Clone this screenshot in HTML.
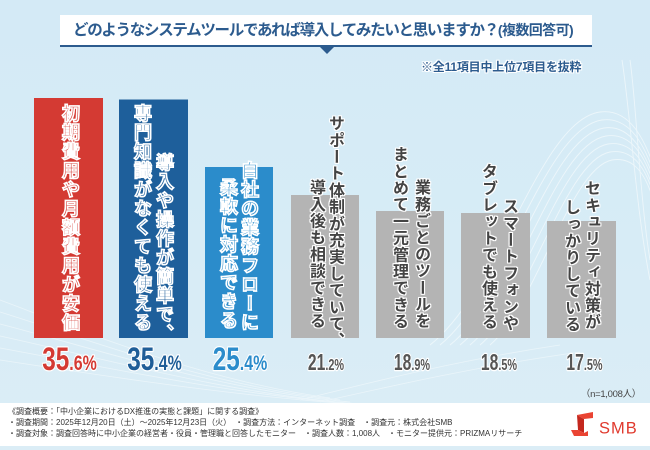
<!DOCTYPE html>
<html><head><meta charset="utf-8">
<style>
*{margin:0;padding:0;box-sizing:border-box}
html,body{width:650px;height:450px;overflow:hidden}
body{position:relative;background:linear-gradient(180deg,#d4eaf6 0%,#d7ecf6 55%,#dbedf6 100%);font-family:"Liberation Sans","Noto Sans CJK JP",sans-serif}
.a{position:absolute}
.title{left:60px;top:15px;width:532px;height:32px;background:#fff;border-bottom:2px solid #2c5b8e}
.tri{left:320px;top:47px;width:0;height:0;border-left:7px solid transparent;border-right:7px solid transparent;border-top:7px solid #2c5b8e}
.ttext{left:73px;top:20px;line-height:21px;font-size:15.5px;font-weight:bold;color:#2c5b8e;letter-spacing:-1.3px;white-space:nowrap;font-family:"Liberation Sans","Noto Sans CJK JP",sans-serif}
.ttext .s{font-size:14px;letter-spacing:-0.6px}
.note{left:421px;top:59px;line-height:16px;font-size:12px;font-weight:bold;color:#2c5b8e;letter-spacing:-0.2px;white-space:nowrap;
text-shadow:1px 0 #fff,-1px 0 #fff,0 1px #fff,0 -1px #fff,1px 1px #fff,-1px -1px #fff,1px -1px #fff,-1px 1px #fff}
.v{position:absolute;writing-mode:vertical-rl;white-space:nowrap;font-family:"Liberation Sans","Noto Sans CJK JP",sans-serif;font-weight:bold}
.c{font-size:18px;line-height:18px;width:18px;letter-spacing:1px;-webkit-text-stroke:1.6px #fff}
.g{font-size:16px;line-height:16px;width:16px;letter-spacing:0.7px;color:#444;
text-shadow:1px 0 #fff,-1px 0 #fff,0 1px #fff,0 -1px #fff,1px 1px #fff,-1px -1px #fff,1px -1px #fff,-1px 1px #fff,0 0 2px #fff}
.foot{left:0;top:403px;width:650px;height:43px;background:#fff}
.fl{left:8px;font-size:8px;line-height:11px;color:#333;white-space:nowrap;font-family:"Liberation Sans","Noto Sans CJK JP",sans-serif}
.n{left:560px;width:81px;text-align:right;top:388px;font-size:9.5px;line-height:14px;color:#444;white-space:nowrap;letter-spacing:-0.3px}
</style></head>
<body>
<svg class="a" style="left:0;top:0" width="650" height="450" viewBox="0 0 650 450">
  <g fill="none" stroke="#ffffff" stroke-width="0.9" opacity="0.55">
    <path d="M430 345 C500 290 540 120 600 112 C630 108 645 140 655 170"/>
    <path d="M440 345 C505 292 545 128 602 120 C630 116 645 146 655 176"/>
    <path d="M450 345 C512 295 550 136 604 128 C630 124 645 152 655 182"/>
    <path d="M460 345 C518 298 555 144 606 136 C632 132 646 158 655 188"/>
    <path d="M470 345 C524 300 560 152 608 144 C633 140 646 164 655 194"/>
    <path d="M480 345 C530 303 565 160 610 152 C634 148 647 170 655 200"/>
    <path d="M490 345 C536 306 570 168 612 160 C635 156 647 176 655 206"/>
    <path d="M630 60 C636 100 640 200 650 260"/>
    <path d="M622 60 C630 110 636 210 650 280"/>
  </g>
  <g fill="none" stroke="#ffffff" stroke-width="0.8" opacity="0.45">
    <path d="M0 300 C80 330 200 380 330 398"/>
    <path d="M0 312 C90 340 210 386 340 400"/>
    <path d="M0 324 C100 350 220 390 350 402"/>
    <path d="M0 336 C110 360 230 394 360 404"/>
    <path d="M0 348 C120 370 240 396 370 405"/>
    <path d="M0 360 C130 380 250 398 380 406"/>
    <path d="M300 400 C380 380 460 360 560 345"/>
    <path d="M320 402 C400 384 480 366 580 352"/>
  </g>
  <!-- bars -->
  <rect x="34" y="98" width="69" height="240" fill="#d43a33"/>
  <rect x="119" y="99.5" width="69" height="238.5" fill="#1e5f9b"/>
  <rect x="205" y="167" width="68" height="171" fill="#2b8ccb"/>
  <rect x="291" y="195" width="68" height="143" fill="#b4b4b4"/>
  <rect x="376" y="211" width="68" height="127" fill="#b4b4b4"/>
  <rect x="461" y="213" width="69" height="125" fill="#b4b4b4"/>
  <rect x="547" y="221" width="69" height="117" fill="#b4b4b4"/>
  <!-- percentages -->
  <g font-family="Liberation Sans" font-weight="bold" stroke="#fff" stroke-width="2.5" paint-order="stroke" stroke-linejoin="round" text-anchor="middle">
    <text transform="translate(69.5,370) scale(0.76,1)" fill="#d43a33"><tspan font-size="32">35</tspan><tspan font-size="21">.6%</tspan></text>
    <text transform="translate(154.5,370) scale(0.76,1)" fill="#1f5e98"><tspan font-size="32">35</tspan><tspan font-size="21">.4%</tspan></text>
    <text transform="translate(240,370) scale(0.76,1)" fill="#2b8ccb"><tspan font-size="32">25</tspan><tspan font-size="21">.4%</tspan></text>
    <text transform="translate(326,370) scale(0.68,1)" fill="#555"><tspan font-size="23">21</tspan><tspan font-size="16">.2%</tspan></text>
    <text transform="translate(412,370) scale(0.68,1)" fill="#555"><tspan font-size="23">18</tspan><tspan font-size="16">.9%</tspan></text>
    <text transform="translate(499,370) scale(0.68,1)" fill="#555"><tspan font-size="23">18</tspan><tspan font-size="16">.5%</tspan></text>
    <text transform="translate(584.5,370) scale(0.68,1)" fill="#555"><tspan font-size="23">17</tspan><tspan font-size="16">.5%</tspan></text>
  </g>
</svg>

<div class="a title"></div>
<div class="a tri"></div>
<div class="a ttext">どのようなシステムツールであれば導入してみたいと思いますか？<span class="s">(複数回答可)</span></div>
<div class="a note">※全11項目中上位7項目を抜粋</div>

<!-- vertical labels -->
<div class="v c" style="left:61px;top:104px;color:#d43a33">初期費用や月額費用が安価</div>
<div class="v c" style="left:133px;top:104px;color:#1e5f9b">専門知識がなくても使える</div>
<div class="v c" style="left:155px;top:153px;color:#1e5f9b">導入や操作が簡単で、</div>
<div class="v c" style="left:240px;top:161px;color:#2b8ccb">自社の業務フローに</div>
<div class="v c" style="left:219px;top:178px;color:#2b8ccb">柔軟に対応できる</div>

<div class="v g" style="left:326px;top:115px">サポート体制が充実していて、</div>
<div class="v g" style="left:307px;top:179px">導入後も相談できる</div>
<div class="v g" style="left:412px;top:179px">業務ごとのツールを</div>
<div class="v g" style="left:390px;top:146px">まとめて一元管理できる</div>
<div class="v g" style="left:500px;top:198px">スマートフォンや</div>
<div class="v g" style="left:479px;top:163px">タブレットでも使える</div>
<div class="v g" style="left:582px;top:180px">セキュリティ対策が</div>
<div class="v g" style="left:562px;top:199px">しっかりしている</div>

<div class="a n">（n=1,008人）</div>

<div class="a foot"></div>
<div class="a fl" style="top:405.5px">《調査概要：「中小企業におけるDX推進の実態と課題」に関する調査》</div>
<div class="a fl" style="top:416.5px">・調査期間：2025年12月20日（土）～2025年12月23日（火）　・調査方法：インターネット調査　・調査元：株式会社SMB</div>
<div class="a fl" style="top:427.5px">・調査対象：調査回答時に中小企業の経営者・役員・管理職と回答したモニター　・調査人数：1,008人　・モニター提供元：PRIZMAリサーチ</div>

<svg class="a" style="left:560px;top:405px" width="90" height="40" viewBox="560 405 90 40">
  <polygon points="577,415 593,412 593,418 584,419" fill="#ea4433"/>
  <polygon points="577,415 584,419 584,433 578,430" fill="#c4281e"/>
  <polygon points="571,430 578,430 584,433 588,431 588,436 574,436" fill="#ea4433"/>
  <text x="599" y="433.5" font-family="Liberation Sans" font-size="16.5" fill="#e0392d" letter-spacing="1">SMB</text>
</svg>
</body></html>
